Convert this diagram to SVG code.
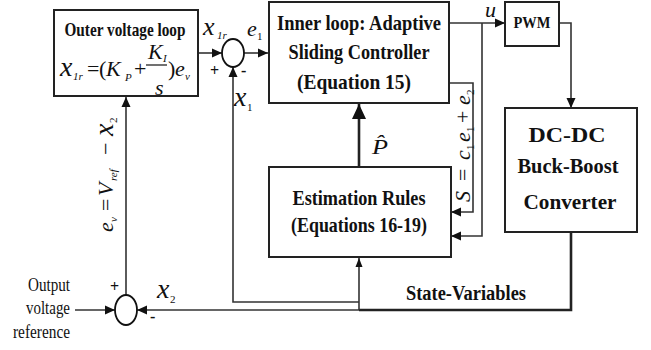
<svg xmlns="http://www.w3.org/2000/svg" width="651" height="350" viewBox="0 0 651 350">
<defs>
<style>
.box{fill:#fff;stroke:#222;stroke-width:2}
.ln{fill:none;stroke:#333;stroke-width:1.6}
.thick{fill:none;stroke:#222;stroke-width:2.6}
.b{font-family:"Liberation Serif","Times New Roman",serif;font-weight:bold;fill:#111;text-anchor:middle}
.r{font-family:"Liberation Serif","Times New Roman",serif;fill:#111}
.mi{font-family:"Liberation Serif","Times New Roman",serif;font-style:italic;fill:#111;font-size:22px}
.up{font-style:normal}
</style>
<marker id="ah" markerWidth="10" markerHeight="10" refX="10" refY="5" orient="auto" markerUnits="userSpaceOnUse">
<path d="M0,0.5 L10,5 L0,9.5 z" fill="#111"/>
</marker>
<marker id="ahs" markerWidth="9" markerHeight="8" refX="9" refY="4" orient="auto" markerUnits="userSpaceOnUse">
<path d="M0,0.5 L9,4 L0,7.5 z" fill="#111"/>
</marker>
<marker id="ahb" markerWidth="15" markerHeight="14" refX="15" refY="7" orient="auto" markerUnits="userSpaceOnUse">
<path d="M0,0 L15,7 L0,14 z" fill="#111"/>
</marker>
</defs>
<rect width="651" height="350" fill="#fff"/>

<g id="connectors">
<line class="ln" x1="198" y1="53" x2="222" y2="53" marker-end="url(#ah)"/>
<line class="ln" x1="244" y1="53" x2="268" y2="53" marker-end="url(#ah)"/>
<polyline class="ln" points="359,302 233,302 233,67" marker-end="url(#ah)"/>
<line class="ln" x1="450" y1="23" x2="505" y2="23" marker-end="url(#ah)"/>
<polyline class="ln" points="482,23 482,236 451,236" marker-end="url(#ah)"/>
<polyline class="ln" points="450,83 473,83 473,212 451,212" marker-end="url(#ah)"/>
<polyline class="ln" points="559,23 571,23 571,108" marker-end="url(#ah)"/>
<polyline class="thick" points="571,232 571,310 359,310"/>
<line class="ln" x1="359" y1="310" x2="137" y2="310" marker-end="url(#ah)"/>
<line class="ln" x1="359" y1="310" x2="359" y2="258" marker-end="url(#ahs)"/>
<line class="thick" stroke-width="3.2" x1="359" y1="166" x2="359" y2="104" marker-end="url(#ahb)"/>
<line class="ln" x1="75" y1="310" x2="115" y2="310" marker-end="url(#ah)"/>
<line class="ln" x1="126" y1="295" x2="126" y2="97" marker-end="url(#ah)"/>
</g>

<g id="outer-loop">
<rect class="box" x="54" y="10" width="144" height="86"/>
<text class="b" x="125" y="36" font-size="19" textLength="121" lengthAdjust="spacingAndGlyphs">Outer voltage loop</text>
<text class="mi"><tspan x="60" y="76" font-size="28">x</tspan><tspan x="73" y="80" font-size="11">1r</tspan><tspan x="87" y="76" class="up">=</tspan><tspan x="99" y="76" class="up">(</tspan><tspan x="106" y="76">K</tspan><tspan x="125" y="81" font-size="11">P</tspan><tspan x="134" y="76" class="up">+</tspan><tspan x="148" y="59">K</tspan><tspan x="163" y="62" font-size="11">I</tspan><tspan x="155" y="95">s</tspan><tspan x="168" y="76" class="up">)</tspan><tspan x="175" y="76">e</tspan><tspan x="185" y="80" font-size="11">v</tspan></text>
<line x1="146" y1="65" x2="167" y2="65" stroke="#111" stroke-width="1.2"/>
</g>

<g id="sum1">
<ellipse cx="233" cy="53" rx="11" ry="14" fill="#fff" stroke="#111" stroke-width="1.8"/>
<text class="mi"><tspan x="203" y="35" font-size="26">x</tspan><tspan x="217" y="39" font-size="11">1r</tspan></text>
<text class="mi"><tspan x="247" y="36">e</tspan><tspan x="257" y="40" font-size="11" class="up">1</tspan></text>
<text class="r" x="210" y="76" font-size="16" font-weight="bold">+</text>
<text class="r" x="241" y="76" font-size="16" font-weight="bold">-</text>
<text class="mi"><tspan x="234" y="106" font-size="28">x</tspan><tspan x="247" y="111" font-size="11" class="up">1</tspan></text>
</g>

<g id="inner-loop">
<rect class="box" x="269" y="2" width="180" height="101"/>
<text class="b" x="359" y="30" font-size="22" textLength="164" lengthAdjust="spacingAndGlyphs">Inner loop: Adaptive</text>
<text class="b" x="359" y="59" font-size="22" textLength="141" lengthAdjust="spacingAndGlyphs">Sliding Controller</text>
<text class="b" x="354" y="89" font-size="22" textLength="114" lengthAdjust="spacingAndGlyphs">(Equation 15)</text>
</g>

<g id="u-label">
<text class="mi" x="485" y="17" font-size="17">u</text>
</g>

<g id="pwm">
<rect class="box" x="505" y="2" width="54" height="44"/>
<text class="b" x="532" y="28" font-size="17" textLength="37" lengthAdjust="spacingAndGlyphs">PWM</text>
</g>

<g id="converter">
<rect class="box" x="505" y="108" width="132" height="124"/>
<text class="b" x="567" y="142" font-size="22" textLength="77" lengthAdjust="spacingAndGlyphs">DC-DC</text>
<text class="b" x="568" y="173" font-size="22" textLength="101" lengthAdjust="spacingAndGlyphs">Buck-Boost</text>
<text class="b" x="570" y="209" font-size="22" textLength="93" lengthAdjust="spacingAndGlyphs">Converter</text>
</g>

<g id="estimation">
<rect class="box" x="269" y="167" width="182" height="90"/>
<text class="b" x="359" y="205" font-size="21" textLength="133" lengthAdjust="spacingAndGlyphs">Estimation Rules</text>
<text class="b" x="359" y="232" font-size="21" textLength="136" lengthAdjust="spacingAndGlyphs">(Equations 16-19)</text>
</g>

<g id="p-hat">
<text class="mi" x="372" y="154" font-size="32" textLength="16" lengthAdjust="spacingAndGlyphs">P̂</text>
</g>

<g id="s-label">
<text class="mi" transform="translate(470,202) rotate(-90)"><tspan x="0" y="0">S</tspan><tspan x="21" y="0" class="up">=</tspan><tspan x="42" y="0">c</tspan><tspan x="52" y="4" font-size="11" class="up">1</tspan><tspan x="60" y="0">e</tspan><tspan x="70" y="4" font-size="11" class="up">1</tspan><tspan x="79" y="0" class="up">+</tspan><tspan x="97" y="0">e</tspan><tspan x="107" y="4" font-size="11" class="up">2</tspan></text>
</g>

<g id="ev-label">
<text class="mi" transform="translate(113,232) rotate(-90)"><tspan x="0" y="0">e</tspan><tspan x="10" y="4" font-size="11">v</tspan><tspan x="21" y="0" class="up">=</tspan><tspan x="36" y="0">V</tspan><tspan x="51" y="4" font-size="11">ref</tspan><tspan x="77" y="0" class="up">−</tspan><tspan x="96" y="0" font-size="28">x</tspan><tspan x="109" y="4" font-size="11" class="up">2</tspan></text>
</g>

<g id="sum2">
<ellipse cx="126" cy="310" rx="11" ry="15" fill="#fff" stroke="#111" stroke-width="1.8"/>
<text class="r" x="110" y="292" font-size="16" font-weight="bold">+</text>
<text class="r" x="150" y="322" font-size="16" font-weight="bold">-</text>
<text class="mi"><tspan x="157" y="298" font-size="28">x</tspan><tspan x="170" y="303" font-size="11" class="up">2</tspan></text>
</g>

<g id="reference-input">
<text class="r" text-anchor="end" x="70" y="291" font-size="19" textLength="42" lengthAdjust="spacingAndGlyphs">Output</text>
<text class="r" text-anchor="end" x="70" y="314" font-size="19" textLength="44" lengthAdjust="spacingAndGlyphs">voltage</text>
<text class="r" text-anchor="end" x="70" y="338" font-size="19" textLength="57" lengthAdjust="spacingAndGlyphs">reference</text>
</g>

<g id="state-variables">
<text class="b" x="466" y="300" font-size="20" textLength="120" lengthAdjust="spacingAndGlyphs">State-Variables</text>
</g>
</svg>
